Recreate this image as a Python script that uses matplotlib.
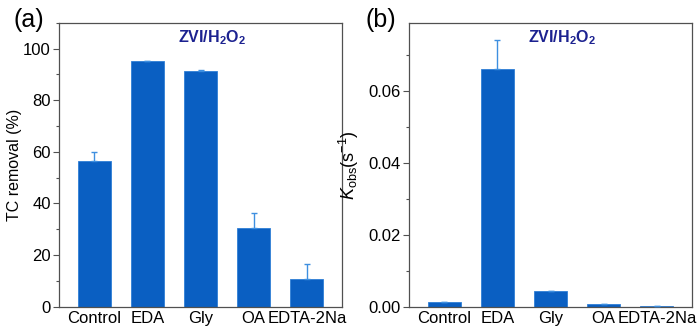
import matplotlib
matplotlib.use("Agg")
import matplotlib.pyplot as plt
from matplotlib.ticker import MultipleLocator, FormatStrFormatter

plt.rcParams['font.family'] = ['Liberation Sans', 'DejaVu Sans']
plt.rcParams['mathtext.fontset'] = 'custom'
plt.rcParams['mathtext.rm'] = 'Liberation Sans'
plt.rcParams['mathtext.it'] = 'Liberation Sans:italic'
plt.rcParams['mathtext.bf'] = 'Liberation Sans:bold'

categories = ["Control", "EDA", "Gly", "OA", "EDTA-2Na"]
removal = [56.5, 95.0, 91.4, 30.3, 10.6]
removal_err = [3.5, 0.3, 0.2, 5.9, 5.8]
kobs = [0.0012, 0.0662, 0.0043, 0.00065, 0.0002]
kobs_err = [0.0002, 0.0081, 0.0, 0.0001, 0.0001]

bar_color = "#0A5FC2"
edge_color = "#2F7FD6"
err_color = "#3E8FE0"
spine_color = "#505050"
title_color = "#1C2290"

fig = plt.figure(figsize=(7.0, 3.31), dpi=100)
ax_a = fig.add_axes([59 / 700, 1 - 306.7 / 331, 283 / 700, 284 / 331])
ax_b = fig.add_axes([409 / 700, 1 - 306.7 / 331, 283 / 700, 284 / 331])

x = list(range(len(categories)))


def style(ax):
    for s in ax.spines.values():
        s.set_color(spine_color)
        s.set_linewidth(0.9)
    ax.tick_params(axis='y', which='major', direction='out', length=4,
                   width=0.8, color=spine_color, labelsize=12, pad=2)
    ax.tick_params(axis='y', which='minor', direction='out', length=2.5,
                   width=0.8, color=spine_color)
    ax.tick_params(axis='x', length=0, labelsize=12, pad=3)


def draw(ax, vals, errs):
    ax.bar(x, vals, width=0.62, color=bar_color, edgecolor=edge_color,
           linewidth=0.6, zorder=2)
    ax.errorbar(x, vals, yerr=[[0] * len(vals), errs], fmt='none',
                ecolor=err_color, elinewidth=1.0, capsize=2.2, capthick=1.0,
                zorder=3)
    ax.set_xlim(-0.66, 4.66)
    ax.set_xticks(x)
    ax.set_xticklabels(categories)
    style(ax)
    ax.text(0.542, 0.946, "ZVI/H$_\\mathbf{2}$O$_\\mathbf{2}$",
            transform=ax.transAxes, ha='center', va='center', fontsize=11.5,
            fontweight='bold', color=title_color)


# (a) removal efficiency
draw(ax_a, removal, removal_err)
ax_a.set_ylim(0, 110)
ax_a.yaxis.set_major_locator(MultipleLocator(20))
ax_a.yaxis.set_minor_locator(MultipleLocator(10))
ax_a.set_ylabel("TC removal (%)", fontsize=11.5, labelpad=0.5)
fig.text(29 / 700, 1 - 20 / 331, "(a)", fontsize=18, ha='center', va='center')

# (b) rate constants
draw(ax_b, kobs, kobs_err)
ax_b.set_ylim(0, 0.079)
ax_b.yaxis.set_major_locator(MultipleLocator(0.02))
ax_b.yaxis.set_minor_locator(MultipleLocator(0.01))
ax_b.yaxis.set_major_formatter(FormatStrFormatter('%.2f'))
ax_b.set_ylabel("$K_{\\mathrm{obs}}$(s$^{-1}$)", fontsize=13, labelpad=5)
fig.text(381 / 700, 1 - 20 / 331, "(b)", fontsize=18, ha='center', va='center')

fig.savefig("out.png", dpi=100)
